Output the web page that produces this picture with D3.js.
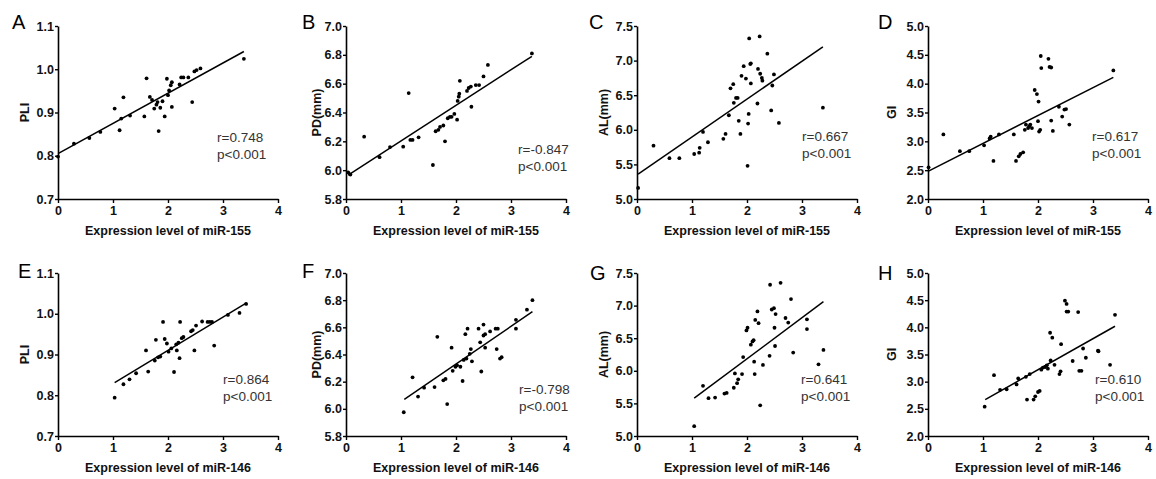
<!DOCTYPE html>
<html>
<head>
<meta charset="utf-8">
<script src="https://cdn.jsdelivr.net/npm/d3@7"></script>
<style>
  html, body { margin: 0; padding: 0; background: #fff; }
  svg { display: block; font-family: Arial, "Liberation Sans", sans-serif; }
</style>
</head>
<body>
<div id="chart"></div>
<script>
// ── Datos ─────────────────────────────────────────────────────────────────
const xTicks = [0, 1, 2, 3, 4];
const ticksPLI = [0.7, 0.8, 0.9, 1.0, 1.1];
const ticksPD = [5.8, 6.0, 6.2, 6.4, 6.6, 6.8, 7.0];
const ticksAL = [5.0, 5.5, 6.0, 6.5, 7.0, 7.5];
const ticksGI = [2.0, 2.5, 3.0, 3.5, 4.0, 4.5, 5.0];

const pli155 = [[0,0.798],[0.29,0.828],[0.57,0.841],[0.77,0.855],[1.03,0.909],[1.12,0.859],[1.15,0.886],
  [1.19,0.935],[1.31,0.893],[1.57,0.891],[1.61,0.979],[1.67,0.936],[1.71,0.929],[1.75,0.909],[1.79,0.918],
  [1.81,0.924],[1.83,0.857],[1.86,0.911],[1.90,0.926],[1.94,0.891],[1.98,0.978],[2.00,0.940],[2.02,0.951],
  [2.05,0.963],[2.07,0.970],[2.07,0.913],[2.21,0.965],[2.24,0.981],[2.28,0.981],[2.37,0.981],[2.44,0.924],
  [2.48,0.995],[2.52,0.998],[2.59,1.002],[3.38,1.024]];
const pd155 = [[0.04,5.984],[0.08,5.97],[0.33,6.232],[0.61,6.09],[0.80,6.16],[1.04,6.163],[1.14,6.535],
  [1.17,6.21],[1.21,6.21],[1.32,6.228],[1.58,6.036],[1.63,6.27],[1.68,6.28],[1.71,6.30],[1.77,6.31],
  [1.80,6.20],[1.85,6.36],[1.89,6.37],[1.92,6.37],[1.97,6.39],[2.02,6.35],[2.03,6.48],[2.05,6.51],
  [2.06,6.53],[2.07,6.62],[2.20,6.55],[2.23,6.57],[2.27,6.58],[2.28,6.44],[2.36,6.59],[2.42,6.59],
  [2.50,6.65],[2.58,6.73],[3.38,6.81]];
const al155 = [[0.02,5.16],[0.30,5.77],[0.59,5.59],[0.77,5.59],[1.04,5.65],[1.13,5.67],[1.14,5.74],
  [1.20,5.97],[1.29,5.82],[1.57,5.87],[1.61,5.94],[1.67,6.21],[1.70,6.60],[1.75,6.66],[1.76,6.39],
  [1.80,6.46],[1.83,6.46],[1.85,6.13],[1.88,5.94],[1.90,6.78],[1.94,6.92],[1.98,6.74],[2.01,5.48],
  [2.02,6.09],[2.03,6.23],[2.04,7.32],[2.06,6.95],[2.07,6.67],[2.07,6.96],[2.19,6.38],[2.20,6.88],
  [2.23,7.35],[2.24,6.81],[2.27,6.75],[2.28,6.71],[2.37,7.10],[2.44,6.28],[2.46,6.64],[2.49,6.80],
  [2.58,6.10],[3.38,6.32]];
const gi155 = [[0.01,2.55],[0.28,3.12],[0.58,2.83],[0.75,2.83],[1.02,2.93],[1.12,3.05],[1.14,3.08],
  [1.19,2.66],[1.29,3.12],[1.56,3.12],[1.60,2.66],[1.65,2.74],[1.68,2.78],[1.73,2.81],[1.76,3.20],
  [1.78,3.29],[1.82,3.23],[1.84,3.26],[1.86,3.29],[1.89,3.23],[1.94,3.89],[1.98,3.82],[2.00,3.35],
  [2.01,3.69],[2.02,3.17],[2.04,3.20],[2.05,4.48],[2.06,4.27],[2.19,4.43],[2.21,4.29],[2.24,4.28],
  [2.24,3.36],[2.27,3.18],[2.38,3.60],[2.44,3.43],[2.48,3.55],[2.51,3.56],[2.57,3.29],[3.37,4.23]];

const pli146 = [[1.03,0.794],[1.19,0.827],[1.30,0.839],[1.42,0.854],[1.60,0.910],[1.64,0.858],[1.76,0.885],
  [1.78,0.936],[1.82,0.893],[1.86,0.895],[1.91,0.980],[1.94,0.938],[1.98,0.927],[2.01,0.907],[2.06,0.915],
  [2.11,0.857],[2.15,0.925],[2.16,0.910],[2.19,0.929],[2.21,0.891],[2.22,0.980],[2.25,0.940],[2.28,0.943],
  [2.42,0.957],[2.45,0.960],[2.48,0.910],[2.51,0.971],[2.62,0.981],[2.72,0.980],[2.76,0.980],[2.80,0.980],
  [2.84,0.922],[3.09,0.997],[3.30,1.002],[3.42,1.024]];
const pd146 = [[1.05,5.975],[1.21,6.232],[1.31,6.09],[1.42,6.156],[1.61,6.16],[1.66,6.53],[1.77,6.21],
  [1.81,6.22],[1.84,6.035],[1.92,6.45],[1.94,6.28],[1.99,6.31],[2.02,6.32],[2.08,6.31],[2.12,6.205],
  [2.14,6.36],[2.17,6.55],[2.19,6.37],[2.21,6.59],[2.25,6.405],[2.27,6.44],[2.29,6.35],[2.41,6.59],
  [2.44,6.49],[2.46,6.275],[2.50,6.62],[2.50,6.54],[2.53,6.55],[2.53,6.45],[2.62,6.57],[2.72,6.59],
  [2.76,6.59],[2.74,6.44],[2.80,6.37],[2.83,6.38],[3.09,6.655],[3.09,6.59],[3.29,6.73],[3.39,6.80]];
const al146 = [[1.04,5.15],[1.20,5.77],[1.30,5.58],[1.42,5.59],[1.59,5.65],[1.63,5.66],[1.76,5.74],
  [1.78,5.96],[1.82,5.81],[1.84,5.87],[1.91,5.95],[1.93,6.21],[1.99,6.62],[2.01,6.66],[2.07,6.40],
  [2.10,6.45],[2.12,6.47],[2.13,6.14],[2.14,5.95],[2.15,6.78],[2.19,6.91],[2.21,6.73],[2.24,5.47],
  [2.29,6.09],[2.41,6.23],[2.42,7.32],[2.45,6.94],[2.49,6.96],[2.50,6.66],[2.51,6.38],[2.52,6.87],
  [2.61,7.35],[2.70,6.81],[2.75,6.74],[2.80,7.10],[2.84,6.28],[3.09,6.79],[3.09,6.64],[3.30,6.10],
  [3.39,6.32]];
const gi146 = [[1.03,2.54],[1.20,3.12],[1.31,2.85],[1.43,2.86],[1.61,2.95],[1.64,3.06],[1.78,3.09],
  [1.80,2.67],[1.85,3.14],[1.92,2.67],[1.95,2.73],[2.00,2.81],[2.03,2.83],[2.06,3.22],[2.09,3.26],
  [2.13,3.27],[2.16,3.30],[2.18,3.24],[2.22,3.90],[2.26,3.81],[2.23,3.39],[2.30,3.31],[2.39,3.14],
  [2.41,3.19],[2.42,3.69],[2.49,4.49],[2.52,4.43],[2.52,4.29],[2.55,4.29],[2.63,3.38],[2.73,4.28],
  [2.75,3.20],[2.79,3.20],[2.82,3.61],[2.87,3.44],[3.09,3.57],[3.10,3.56],[3.31,3.31],[3.40,4.23]];

// recta de regresión: [x0, y0, x1, y1] en unidades de datos
const fits = [
  [0, 0.805, 3.38, 1.041], [0.04, 5.966, 3.38, 6.79], [0.02, 5.36, 3.38, 7.20], [0, 2.48, 3.37, 4.11],
  [1.03, 0.831, 3.42, 1.026], [1.06, 6.07, 3.39, 6.715], [1.04, 5.58, 3.39, 7.06], [1.04, 2.67, 3.40, 4.02]
];
const letters = ["A", "B", "C", "D", "E", "F", "G", "H"];
const yLabels = ["PLI", "PD(mm)", "AL(mm)", "GI"];
const xLabels = ["Expression level of miR-155", "Expression level of miR-146"];
const rValues = ["r=0.748", "r=-0.847", "r=0.667", "r=0.617", "r=0.864", "r=-0.798", "r=0.641", "r=0.610"];
const pValues = ["p<0.001", "p<0.001", "p<0.001", "p<0.001", "p<0.001", "p<0.001", "p<0.001", "p<0.001"];
const seriesList = [pli155, pd155, al155, gi155, pli146, pd146, al146, gi146];
const yTickSets = [ticksPLI, ticksPD, ticksAL, ticksGI];

// ── Disposición ──────────────────────────────────────────────────────────
const width = 1156, height = 479;
const colLeft = [58, 346, 637, 928];
const colWidth = 220;
const rowTop = [26, 273];
const rowBottom = [199, 436];
const yLabelOffset = [33, 29, 33, 36];
const letterPos = [[12, 29], [302, 29], [589, 29], [878, 29], [18, 278], [302, 278], [590, 280], [878, 280]];
const annPos = [[159, 137], [172, 149], [165, 136], [164, 136], [165, 379], [173, 389], [164, 379], [167, 379]];

const svg = d3.select("#chart").append("svg")
  .attr("width", width)
  .attr("height", height)
  .attr("viewBox", [0, 0, width, height]);

seriesList.forEach((pts, i) => {
  const col = i % 4, row = Math.floor(i / 4);
  const yT = yTickSets[col];
  const x = d3.scaleLinear().domain([0, 4]).range([colLeft[col], colLeft[col] + colWidth]);
  const y = d3.scaleLinear().domain([yT[0], yT[yT.length - 1]]).range([rowBottom[row], rowTop[row]]);
  const g = svg.append("g");

  // ejes
  const gx = g.append("g")
    .attr("transform", `translate(0,${rowBottom[row]})`)
    .call(d3.axisBottom(x).tickValues(xTicks).tickFormat(d3.format("d")).tickSize(4).tickSizeOuter(0).tickPadding(3));
  const gy = g.append("g")
    .attr("transform", `translate(${colLeft[col]},0)`)
    .call(d3.axisLeft(y).tickValues(yT).tickFormat(d3.format(".1f")).tickSize(3).tickSizeOuter(0).tickPadding(1));
  [gx, gy].forEach(a => {
    a.select(".domain").attr("stroke", "#000").attr("stroke-width", 1.6);
    a.selectAll(".tick line").attr("stroke", "#000").attr("stroke-width", 1.4);
    a.selectAll(".tick text")
      .attr("fill", "#111")
      .style("font-size", "12.5px")
      .style("font-weight", "bold")
      .style("font-family", "Arial, 'Liberation Sans', sans-serif");
  });

  // puntos
  g.selectAll("circle")
    .data(pts)
    .join("circle")
    .attr("cx", d => x(d[0]))
    .attr("cy", d => y(d[1]))
    .attr("r", 1.9)
    .attr("fill", "#000");

  // recta
  const f = fits[i];
  g.append("line")
    .attr("x1", x(f[0])).attr("y1", y(f[1]))
    .attr("x2", x(f[2])).attr("y2", y(f[3]))
    .attr("stroke", "#000")
    .attr("stroke-width", 1.5);

  // títulos de ejes
  g.append("text")
    .attr("x", x(2))
    .attr("y", rowBottom[row] + 36)
    .attr("text-anchor", "middle")
    .style("font-size", "12.5px")
    .style("font-weight", "bold")
    .attr("fill", "#111")
    .text(xLabels[row]);

  g.append("text")
    .attr("transform", `translate(${colLeft[col] - yLabelOffset[col]},${(rowTop[row] + rowBottom[row]) / 2}) rotate(-90)`)
    .attr("text-anchor", "middle")
    .attr("dy", "0.35em")
    .style("font-size", "12.5px")
    .style("font-weight", "bold")
    .attr("fill", "#111")
    .text(yLabels[col]);

  // letra del panel
  g.append("text")
    .attr("x", letterPos[i][0])
    .attr("y", letterPos[i][1])
    .style("font-size", "20px")
    .attr("fill", "#000")
    .text(letters[i]);

  // r y p
  const ann = g.append("text")
    .attr("x", colLeft[col] + annPos[i][0])
    .attr("y", annPos[i][1])
    .style("font-size", "13.5px")
    .attr("fill", "#333");
  ann.append("tspan").attr("x", colLeft[col] + annPos[i][0]).attr("dy", "0.35em").text(rValues[i]);
  ann.append("tspan").attr("x", colLeft[col] + annPos[i][0]).attr("dy", "17px").text(pValues[i]);
});
</script>
</body>
</html>
